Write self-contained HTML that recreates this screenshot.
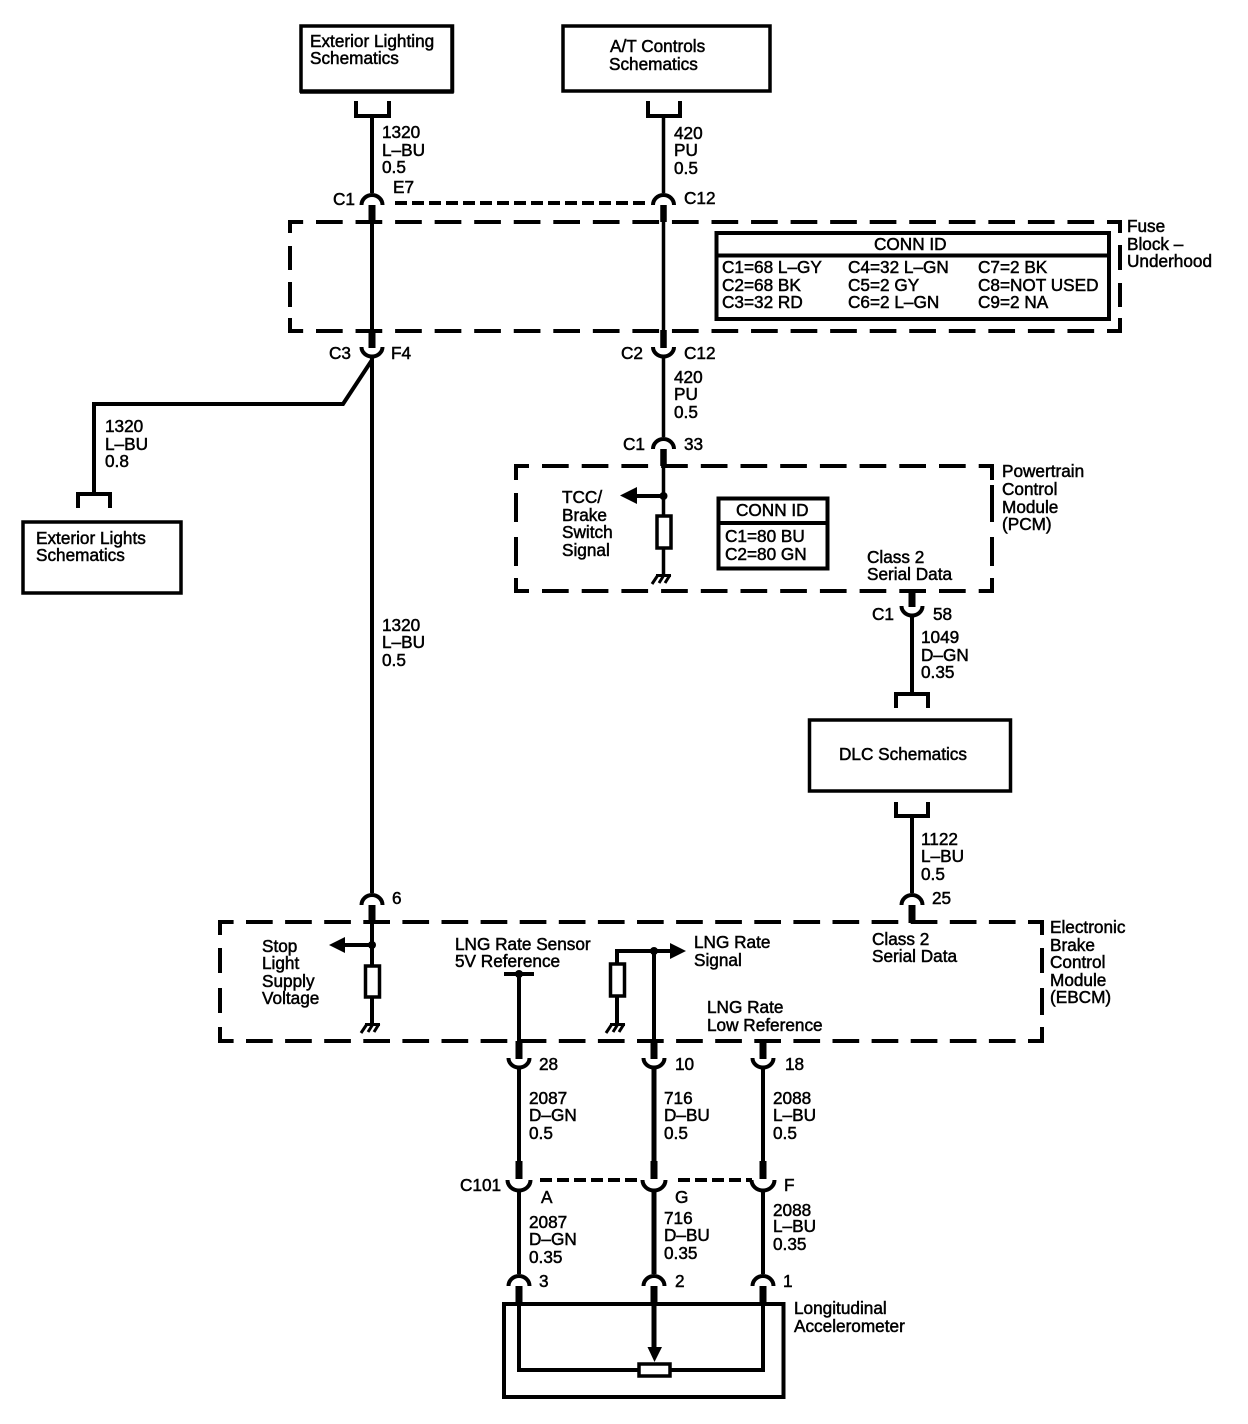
<!DOCTYPE html>
<html><head><meta charset="utf-8"><style>
html,body{margin:0;padding:0;background:#fff}
svg{display:block}
text{font-family:"Liberation Sans",sans-serif;font-size:17.2px;fill:#000;stroke:#000;stroke-width:.5}
.w{stroke:#000;stroke-width:4;fill:none}
.m{stroke:#000;stroke-width:3.5;fill:none}
.t{stroke:#000;stroke-width:5;fill:none}
.s{stroke:#000;stroke-width:7;fill:none}
.b{stroke:#000;stroke-width:3.5;fill:none}
.a{stroke:#000;stroke-width:4;fill:none}
.v{stroke:#000;stroke-width:4;fill:none}
.q{stroke:#000;stroke-width:4;fill:none;stroke-dasharray:12 5}
.r{stroke:#000;stroke-width:3.5;fill:#fff}
</style></head><body>
<svg width="1248" height="1424" viewBox="0 0 1248 1424" xmlns="http://www.w3.org/2000/svg">
<defs>
<path id="up" d="M-10.500 11A10.500 10 0 0 1 10.500 11" class="a"/>
<path id="dn" d="M-10.500 0A10.500 9.500 0 0 0 10.500 0" class="a"/>
<path id="dnb" d="M-11.500 0A11.500 10.500 0 0 0 11.500 0" class="a"/>
<g id="gnd"><path d="M-7 2.500H8" class="b" style="stroke-width:3"/><path d="M-5 2L-11 11M1 2L-4 10M7 2L2 10" class="b" style="stroke-width:3"/></g>
</defs>

<!-- boxes -->
<rect x="301" y="26" width="151.500" height="65" class="b"/>
<path d="M452 25V92H300" class="b"/>
<rect x="563" y="26" width="207" height="65" class="b"/>
<rect x="23" y="522" width="158" height="71" class="b"/>
<rect x="809.500" y="720" width="201" height="71" class="b"/>
<rect x="504" y="1304" width="279.500" height="93" class="a"/>

<!-- U connectors -->
<path d="M356 101V116H389V101" class="w"/>
<path d="M648 101V116H680V101" class="w"/>
<path d="M78 508V494H110V508" class="w"/>
<path d="M896 708V694H928V708" class="w"/>
<path d="M896 802V816H928V802" class="w"/>

<!-- dashed modules: horizontal edges -->
<path d="M290 222H1122" class="v" style="stroke-dasharray:26.700 12.850;stroke-dashoffset:13.550"/>
<path d="M290 331H1122" class="v" style="stroke-dasharray:26.700 12.850;stroke-dashoffset:13.550"/>
<path d="M514 466H994" class="v" style="stroke-dasharray:26.700 13;stroke-dashoffset:11.700"/>
<path d="M514 591H994" class="v" style="stroke-dasharray:26.700 13;stroke-dashoffset:11.700"/>
<path d="M218 922H1044" class="v" style="stroke-dasharray:26.700 12.400;stroke-dashoffset:11.100"/>
<path d="M218 1041H1044" class="v" style="stroke-dasharray:26.700 12.400;stroke-dashoffset:11.100"/>
<!-- dashed modules: vertical edges -->
<path d="M290 220V233M290 246V270M290 282V307M290 318V333M1120 220V233M1120 245V270M1120 283V307M1120 318V333" class="v"/>
<path d="M516 464V480M516 493V522M516 537V566M516 578V593M992 464V480M992 485V522M992 537V566M992 578V593" class="v"/>
<path d="M220 920V935M220 948V973M220 988V1013M220 1027V1043M1042 920V935M1042 948V973M1042 988V1015M1042 1027V1043" class="v"/>
<path d="M395 203H650" class="q"/>
<path d="M540 1180H640M678 1180H752" class="q"/>

<!-- left wire -->
<path d="M372 116V193" class="w"/>
<use href="#up" x="372" y="194"/>
<path d="M372 205V222" class="s"/>
<path d="M372 222V333" class="w"/>
<path d="M372 331V348" class="s"/>
<use href="#dn" x="372" y="347"/>
<path d="M372 358V893" class="w"/>
<use href="#up" x="372" y="894"/>
<path d="M372 905V923" class="s"/>
<path d="M372 922V1023" class="w"/>
<path d="M372 360L343 404H94V494" class="w"/>
<path d="M372 945H345" class="w"/>
<path d="M345 937V953L329 945Z" fill="#000"/>
<circle cx="372" cy="945" r="4"/>
<rect x="365.500" y="966" width="14" height="31" class="r"/>
<use href="#gnd" x="372" y="1022"/>

<!-- middle wire -->
<path d="M663.500 116V193" class="m"/>
<use href="#up" x="663.500" y="194"/>
<path d="M663.500 205V222" class="s" style="stroke-width:6.500"/>
<path d="M663.500 222V333" class="m"/>
<path d="M663.500 330V348" class="s" style="stroke-width:6.500"/>
<use href="#dn" x="663.500" y="347"/>
<path d="M663.500 358V437" class="m"/>
<use href="#up" x="663.500" y="438"/>
<path d="M663.500 449V466" class="s" style="stroke-width:6.500"/>
<path d="M663.500 466V574" class="m"/>
<path d="M663 496H635" class="w"/>
<path d="M637 487V504L620 495.500Z" fill="#000"/>
<circle cx="663.500" cy="496" r="4"/>
<rect x="657" y="516" width="14" height="32" class="r"/>
<use href="#gnd" x="663" y="573"/>

<!-- right wire -->
<path d="M912 590V607" class="s"/>
<use href="#dn" x="912" y="606"/>
<path d="M912 617V694" class="w"/>
<path d="M912 816V893" class="w"/>
<use href="#up" x="912" y="894"/>
<path d="M912 905V923" class="s"/>

<!-- lower wires -->
<path d="M504 974H534" class="w"/>
<circle cx="519" cy="974" r="4"/>
<path d="M519 974V1042" class="w"/>
<path d="M519 1041V1059" class="s"/>
<use href="#dn" x="519" y="1058"/>
<path d="M519 1069V1162" class="w"/>
<path d="M519 1161V1179" class="s"/>
<use href="#dnb" x="519" y="1180"/>
<path d="M519 1191V1274" class="w"/>
<use href="#up" x="519" y="1275"/>
<path d="M519 1286V1303" class="s"/>
<path d="M519 1303V1370H763V1303" class="w"/>

<path d="M654 951V1042" class="w"/>
<path d="M654 1041V1059" class="s"/>
<use href="#dn" x="654" y="1058"/>
<path d="M654 1069V1162" class="t"/>
<path d="M654 1161V1179" class="s"/>
<use href="#dnb" x="654" y="1180"/>
<path d="M654 1191V1274" class="t"/>
<use href="#up" x="654" y="1275"/>
<path d="M654 1286V1303" class="s"/>
<path d="M654 1303V1350" class="t"/>
<path d="M647.500 1347H662L654.500 1362Z" fill="#000"/>
<rect x="639" y="1364" width="31" height="12" class="r"/>

<path d="M617 963V951H672" class="w"/>
<path d="M670 943V959L686 951Z" fill="#000"/>
<circle cx="654" cy="951" r="4"/>
<rect x="610.500" y="964" width="14" height="32" class="r"/>
<path d="M617 996V1023" class="w"/>
<use href="#gnd" x="617" y="1022"/>

<path d="M763 1041V1059" class="s"/>
<use href="#dn" x="763" y="1058"/>
<path d="M763 1069V1162" class="w"/>
<path d="M763 1161V1179" class="s"/>
<use href="#dnb" x="763" y="1180"/>
<path d="M763 1191V1274" class="w"/>
<use href="#up" x="763" y="1275"/>
<path d="M763 1286V1303" class="s"/>

<!-- conn id tables -->
<rect x="716.500" y="233" width="392.500" height="86" class="a"/>
<path d="M717 255.500H1108" class="a"/>
<rect x="718.500" y="498.500" width="109" height="70" class="a"/>
<path d="M718 523H828" class="a"/>

<!-- labels -->
<text x="310" y="47">Exterior Lighting</text><text x="310" y="64">Schematics</text>
<text x="610" y="52">A/T Controls</text><text x="609" y="70">Schematics</text>
<text x="36" y="544">Exterior Lights</text><text x="36" y="561">Schematics</text>
<text x="839" y="760">DLC Schematics</text>

<text x="382" y="138">1320</text><text x="382" y="156">L–BU</text><text x="382" y="173">0.5</text>
<text x="674" y="139">420</text><text x="674" y="156">PU</text><text x="674" y="174">0.5</text>
<text x="333" y="205">C1</text><text x="393" y="193">E7</text><text x="684" y="204">C12</text>
<text x="329" y="359">C3</text><text x="391" y="359">F4</text>
<text x="621" y="359">C2</text><text x="684" y="359">C12</text>
<text x="674" y="383">420</text><text x="674" y="400">PU</text><text x="674" y="418">0.5</text>
<text x="623" y="450">C1</text><text x="684" y="450">33</text>
<text x="105" y="432">1320</text><text x="105" y="450">L–BU</text><text x="105" y="467">0.8</text>
<text x="382" y="631">1320</text><text x="382" y="648">L–BU</text><text x="382" y="666">0.5</text>

<text x="1127" y="232">Fuse</text><text x="1127" y="250">Block –</text><text x="1127" y="267">Underhood</text>
<text x="874" y="250">CONN ID</text>
<text x="722" y="273">C1=68 L–GY</text><text x="722" y="291">C2=68 BK</text><text x="722" y="308">C3=32 RD</text>
<text x="848" y="273">C4=32 L–GN</text><text x="848" y="291">C5=2 GY</text><text x="848" y="308">C6=2 L–GN</text>
<text x="978" y="273">C7=2 BK</text><text x="978" y="291">C8=NOT USED</text><text x="978" y="308">C9=2 NA</text>

<text x="1002" y="477">Powertrain</text><text x="1002" y="495">Control</text><text x="1002" y="513">Module</text><text x="1002" y="530">(PCM)</text>
<text x="562" y="503">TCC/</text><text x="562" y="521">Brake</text><text x="562" y="538">Switch</text><text x="562" y="556">Signal</text>
<text x="736" y="516">CONN ID</text>
<text x="725" y="542">C1=80 BU</text><text x="725" y="560">C2=80 GN</text>
<text x="867" y="563">Class 2</text><text x="867" y="580">Serial Data</text>

<text x="872" y="620">C1</text><text x="933" y="620">58</text>
<text x="921" y="643">1049</text><text x="921" y="661">D–GN</text><text x="921" y="678">0.35</text>
<text x="921" y="845">1122</text><text x="921" y="862">L–BU</text><text x="921" y="880">0.5</text>
<text x="932" y="904">25</text><text x="392" y="904">6</text>

<text x="1050" y="933">Electronic</text><text x="1050" y="951">Brake</text><text x="1050" y="968">Control</text><text x="1050" y="986">Module</text><text x="1050" y="1003">(EBCM)</text>
<text x="262" y="952">Stop</text><text x="262" y="969">Light</text><text x="262" y="987">Supply</text><text x="262" y="1004">Voltage</text>
<text x="455" y="950">LNG Rate Sensor</text><text x="455" y="967">5V Reference</text>
<text x="694" y="948">LNG Rate</text><text x="694" y="966">Signal</text>
<text x="707" y="1013">LNG Rate</text><text x="707" y="1031">Low Reference</text>
<text x="872" y="945">Class 2</text><text x="872" y="962">Serial Data</text>

<text x="539" y="1070">28</text><text x="675" y="1070">10</text><text x="785" y="1070">18</text>
<text x="529" y="1104">2087</text><text x="529" y="1121">D–GN</text><text x="529" y="1139">0.5</text>
<text x="664" y="1104">716</text><text x="664" y="1121">D–BU</text><text x="664" y="1139">0.5</text>
<text x="773" y="1104">2088</text><text x="773" y="1121">L–BU</text><text x="773" y="1139">0.5</text>
<text x="460" y="1191">C101</text><text x="541" y="1203">A</text><text x="675" y="1203">G</text><text x="784" y="1191">F</text>
<text x="529" y="1228">2087</text><text x="529" y="1245">D–GN</text><text x="529" y="1263">0.35</text>
<text x="664" y="1224">716</text><text x="664" y="1241">D–BU</text><text x="664" y="1259">0.35</text>
<text x="773" y="1216">2088</text><text x="773" y="1232">L–BU</text><text x="773" y="1250">0.35</text>
<text x="539" y="1287">3</text><text x="675" y="1287">2</text><text x="783" y="1287">1</text>
<text x="794" y="1314">Longitudinal</text><text x="794" y="1332">Accelerometer</text>
</svg>
</body></html>
